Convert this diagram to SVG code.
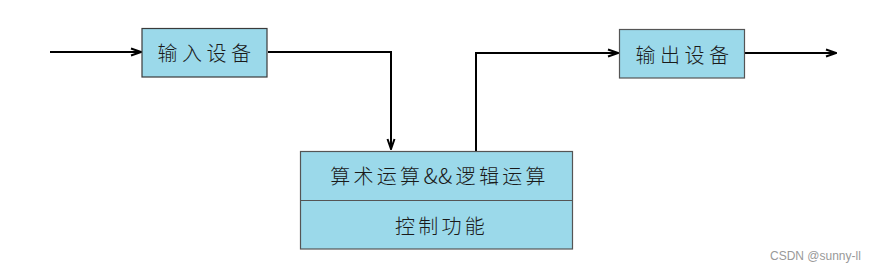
<svg xmlns="http://www.w3.org/2000/svg" width="883" height="272" viewBox="0 0 883 272">
<style>
.box{fill:#9bd9ea;stroke:#3a3a3a;stroke-width:1.2}
.lbl{font-family:"Noto Sans CJK SC","Noto Sans",sans-serif;font-size:20px;font-weight:300;fill:#1a1a1a;text-anchor:middle;letter-spacing:4.5px}
.wire{fill:none;stroke:#000;stroke-width:2}
.wm{font-family:"Liberation Sans",Arial,sans-serif;font-size:12px;fill:#999}
</style>
<defs>
<marker id="arr" viewBox="0 0 12 10" refX="11" refY="5" markerWidth="12" markerHeight="10" markerUnits="userSpaceOnUse" orient="auto">
<path d="M1,1.5 L11,5 L1,8.5" fill="none" stroke="#000" stroke-width="2"/>
</marker>
</defs>
<rect width="883" height="272" fill="#fff"/>
<g id="connectors">
<path class="wire" d="M50,52 L141,52" marker-end="url(#arr)"/>
<path class="wire" d="M268,52 L391,52 L391,149" marker-end="url(#arr)"/>
<path class="wire" d="M476,151 L476,53 L618,53" marker-end="url(#arr)"/>
<path class="wire" d="M745,53 L836,53" marker-end="url(#arr)"/>
</g>
<g id="input">
<rect class="box" x="142" y="28.5" width="125" height="48.5"/>
<text class="lbl" x="206.5" y="61">输入设备</text>
</g>
<g id="output">
<rect class="box" x="619.5" y="29.5" width="125" height="48.5" style="stroke:#555"/>
<text class="lbl" x="684.5" y="62.5">输出设备</text>
</g>
<g id="cpu">
<rect class="box" x="300.5" y="151.5" width="272" height="97.5" style="stroke:#555"/>
<line x1="300.5" y1="200.5" x2="572.5" y2="200.5" stroke="#555" stroke-width="1.2"/>
<text class="lbl" x="439.5" y="184" style="letter-spacing:3.3px">算术运算<tspan style="letter-spacing:0.5px;font-size:22px">&amp;</tspan><tspan style="font-size:22px">&amp;</tspan>逻辑运算</text>
<text class="lbl" x="441.5" y="234" style="letter-spacing:3.3px">控制功能</text>
</g>
<text class="wm" x="770" y="260">CSDN @sunny-ll</text>
</svg>
